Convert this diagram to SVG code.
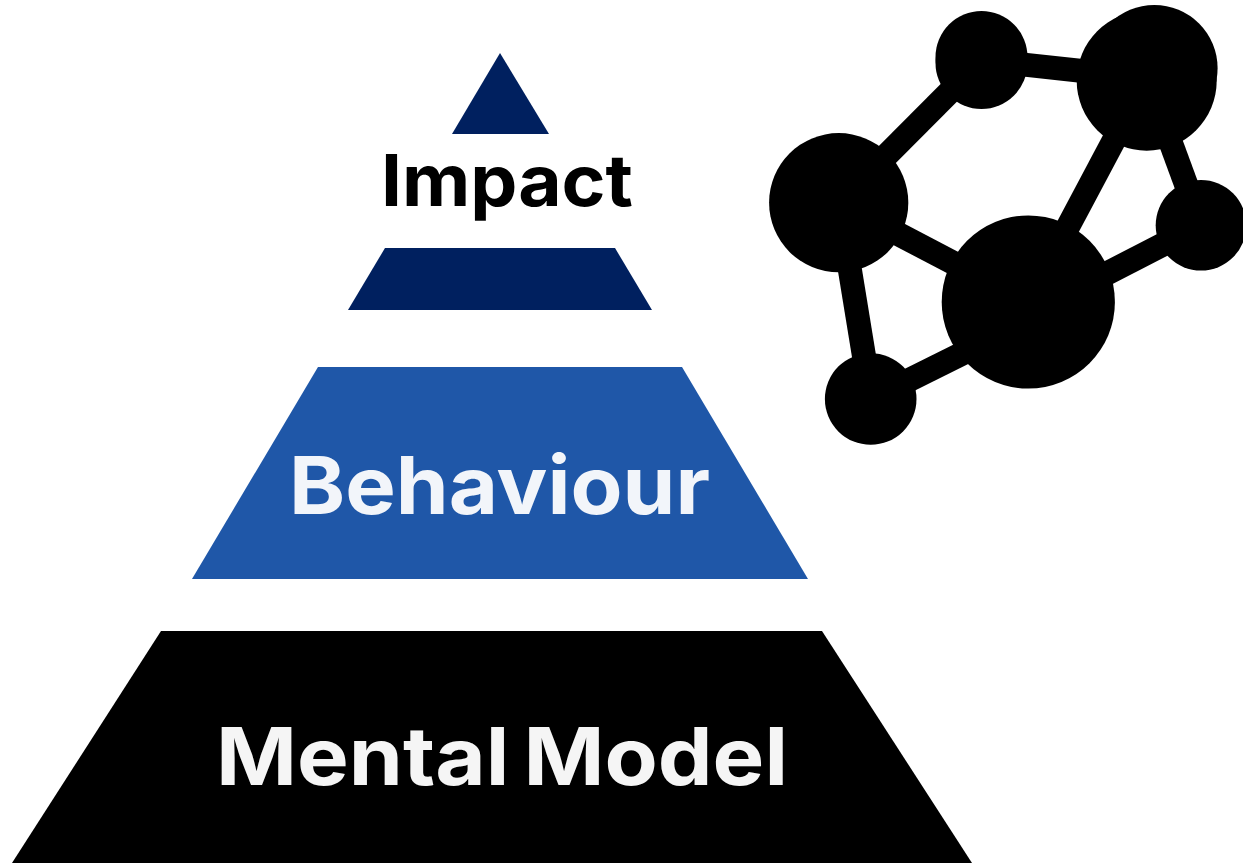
<svg xmlns="http://www.w3.org/2000/svg" width="1243" height="863" viewBox="0 0 1243 863">
<style>
.t{font-family:"Inter","Open Sans","DejaVu Sans",sans-serif;font-weight:700}
.l{stroke:#000;stroke-width:24;fill:none}
</style>
<rect width="1243" height="863" fill="#fff"/>
<g id="pyramid-top"><polygon points="500,53 549,134 452,134" fill="#00205f"/></g>
<g id="impact"><text class="t" x="381" y="206" font-size="71" textLength="252" lengthAdjust="spacingAndGlyphs" fill="#000">Impact</text></g>
<g id="pyramid-band"><polygon points="385,248 615,248 652,310 348,310" fill="#00205f"/></g>
<g id="behaviour"><polygon points="318,367 682,367 808,579 192,579" fill="#1f57a8"/>
<text class="t" x="289" y="514" font-size="80" textLength="421" lengthAdjust="spacingAndGlyphs" fill="#f2f5fa">Behaviour</text></g>
<g id="mental-model"><polygon points="161,631 822,631 972,863 12,863" fill="#000"/>
<text class="t" x="216" y="785" font-size="80" textLength="572" lengthAdjust="spacingAndGlyphs" word-spacing="-6" fill="#f5f5f5">Mental Model</text></g>
<g id="connectors">
<path class="l" d="M839,203 L981.5,60"/>
<path class="l" d="M981.5,60 L1147,78"/>
<path class="l" d="M1147,78 L1028,302"/>
<path class="l" d="M1147,78 L1201,225"/>
<path class="l" d="M1201,225 L1028,314"/>
<path class="l" d="M839,203 L1028,302"/>
<path class="l" d="M839,203 L871,399"/>
<path class="l" d="M871,399 L1028,321"/>
</g>
<g id="network-nodes" fill="#000">
<g id="n1"><circle cx="838.7" cy="202.7" r="69.6"/></g>
<g id="n2"><circle cx="981.5" cy="57" r="46"/><circle cx="981.5" cy="63" r="46"/></g>
<g id="n3"><circle cx="1146.7" cy="80.7" r="70"/><circle cx="1154.3" cy="68.3" r="63.3"/></g>
<g id="n4"><circle cx="1201" cy="225.3" r="45.3"/></g>
<g id="n5"><circle cx="1028.3" cy="302" r="86.6"/></g>
<g id="n6"><circle cx="870.7" cy="399" r="45.8"/></g>
</g>
</svg>
